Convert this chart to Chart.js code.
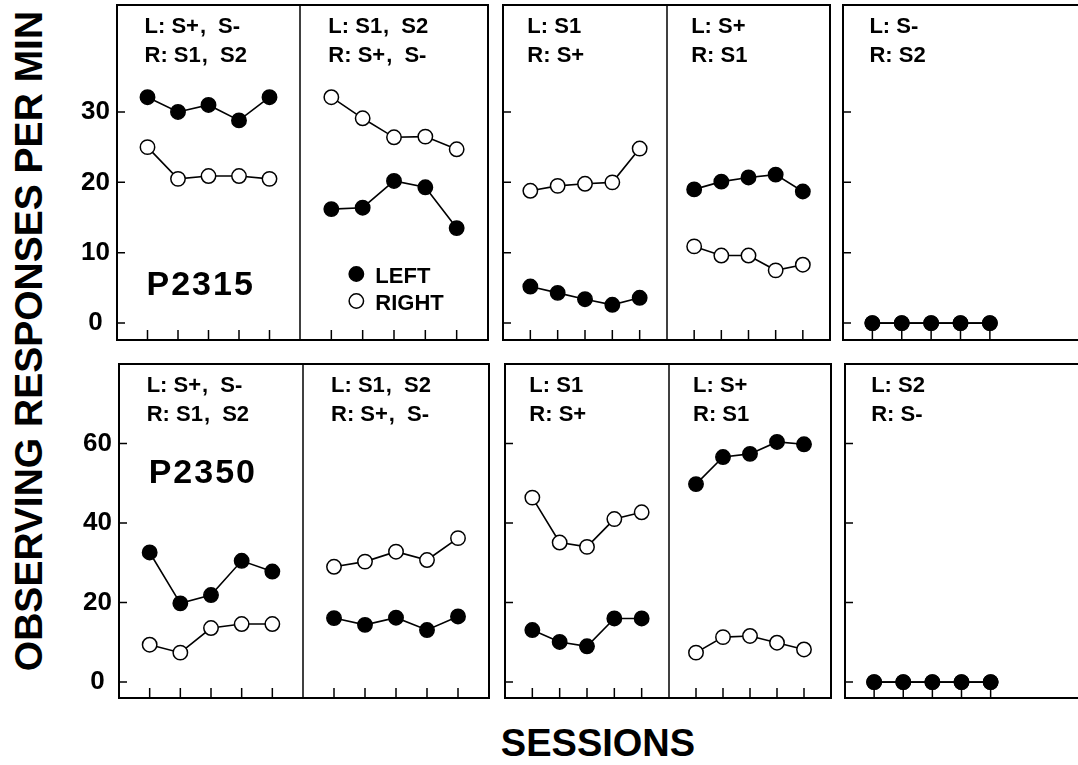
<!DOCTYPE html>
<html>
<head>
<meta charset="utf-8">
<script src="https://cdn.jsdelivr.net/npm/chart.js@4.4.1/dist/chart.umd.min.js"></script>
<style>
  html, body { margin: 0; padding: 0; background: #fff; }
  body { width: 1078px; height: 765px; position: relative; overflow: hidden; font-family: "Liberation Sans", Arial, sans-serif; }
  .panel { position: absolute; }
  .ttl { position: absolute; font-weight: bold; line-height: 1; white-space: nowrap; color: #000; }
</style>
</head>
<body>
<div class="ttl" style="left:28px; top:341px; font-size:39px; transform: translate(-50%, -50%) rotate(-90deg);">OBSERVING RESPONSES PER MIN</div>
<div class="ttl" style="left:598px; top:743px; font-size:38px; transform: translate(-50%, -50%);">SESSIONS</div>
<script>
// sessions on the x axis of every sub-panel
const sessions = [1, 2, 3, 4, 5];
const topTicks = [0, 10, 20, 30];
const bottomTicks = [0, 20, 40, 60];

const topConditions = [
  ['L: S+, S-', 'R: S1, S2'],
  ['L: S1, S2', 'R: S+, S-'],
  ['L: S1', 'R: S+'],
  ['L: S+', 'R: S1'],
  ['L: S-', 'R: S2']
];
const bottomConditions = [
  ['L: S+, S-', 'R: S1, S2'],
  ['L: S1, S2', 'R: S+, S-'],
  ['L: S1', 'R: S+'],
  ['L: S+', 'R: S1'],
  ['L: S2', 'R: S-']
];

// P2315 (top row), one list per condition
const p2315Left = [
  [32.1, 30.0, 31.0, 28.8, 32.1],
  [16.2, 16.4, 20.2, 19.3, 13.5],
  [5.2, 4.3, 3.4, 2.6, 3.6],
  [19.0, 20.1, 20.7, 21.1, 18.7],
  [0, 0, 0, 0, 0]
];
const p2315Right = [
  [25.0, 20.5, 20.9, 20.9, 20.5],
  [32.1, 29.1, 26.4, 26.5, 24.7],
  [18.8, 19.5, 19.8, 20.0, 24.8],
  [10.9, 9.6, 9.6, 7.5, 8.3],
  [0, 0, 0, 0, 0]
];
// P2350 (bottom row)
const p2350Left = [
  [32.6, 19.8, 21.9, 30.5, 27.8],
  [16.1, 14.4, 16.2, 13.1, 16.5],
  [13.1, 10.1, 9.0, 16.0, 16.0],
  [49.8, 56.6, 57.4, 60.4, 59.8],
  [0, 0, 0, 0, 0]
];
const p2350Right = [
  [9.4, 7.4, 13.6, 14.6, 14.6],
  [29.0, 30.3, 32.8, 30.7, 36.2],
  [46.4, 35.1, 34.0, 41.0, 42.7],
  [7.4, 11.3, 11.6, 9.9, 8.2],
  [0, 0, 0, 0, 0]
];

Chart.defaults.font.family = '"Liberation Sans", Arial, sans-serif';
Chart.defaults.color = '#000';

const PAD = 26, AXIS_W = 60;
const R_DOT = 7.2;

const rows = [
  { top: 5, bottom: 340, yMin: -2.4, yMax: 45.2, ticks: topTicks, cond: topConditions,
    left: p2315Left, right: p2315Right, subject: 'P2315', subjectY: 290, legend: true,
    edges: [[117, 300], [300, 488], [503, 667], [667, 830], [843, 1078]] },
  { top: 364, bottom: 698, yMin: -4, yMax: 80, ticks: bottomTicks, cond: bottomConditions,
    left: p2350Left, right: p2350Right, subject: 'P2350', subjectY: 119, legend: false,
    edges: [[119, 303], [303, 489], [505, 669], [669, 831], [845, 1078]] }
];

function drawCond(ctx, text, x, y) {
  const parts = text.split(', ');
  ctx.fillText(parts[0], x, y);
  if (parts.length > 1) {
    let cx = x + ctx.measureText(parts[0]).width + 1;
    ctx.fillText(',', cx, y);
    cx += ctx.measureText(', ').width + 6;
    ctx.fillText(parts[1], cx, y);
  }
}

function dot(ctx, x, y, filled) {
  ctx.beginPath();
  ctx.arc(x, y, R_DOT, 0, Math.PI * 2);
  ctx.fillStyle = filled ? '#000' : '#fff';
  ctx.fill();
  ctx.lineWidth = 1.5;
  ctx.strokeStyle = '#000';
  ctx.stroke();
}

const panelFrame = {
  id: 'panelFrame',
  beforeDatasetsDraw(chart, args, o) {
    const { ctx, chartArea: a, scales: { x, y } } = chart;
    ctx.save();
    ctx.strokeStyle = '#000';
    ctx.lineCap = 'square';
    ctx.lineWidth = 2;
    ctx.beginPath();
    ctx.moveTo(a.left, a.top); ctx.lineTo(a.right, a.top);
    ctx.moveTo(a.left, a.bottom); ctx.lineTo(a.right, a.bottom);
    if (o.boxStart) { ctx.moveTo(a.left, a.top); ctx.lineTo(a.left, a.bottom); }
    if (o.boxEnd) { ctx.moveTo(a.right, a.top); ctx.lineTo(a.right, a.bottom); }
    ctx.stroke();
    if (o.divider) {
      ctx.lineWidth = 1.5;
      ctx.beginPath();
      ctx.moveTo(a.right, a.top); ctx.lineTo(a.right, a.bottom);
      ctx.stroke();
    }
    ctx.lineCap = 'butt';
    ctx.lineWidth = 1.5;
    ctx.beginPath();
    sessions.forEach(s => {
      const px = x.getPixelForValue(s);
      ctx.moveTo(px, a.bottom); ctx.lineTo(px, a.bottom - 10);
    });
    if (o.boxStart) {
      o.yTicks.forEach(v => {
        const py = y.getPixelForValue(v);
        ctx.moveTo(a.left, py); ctx.lineTo(a.left + 8, py);
      });
    }
    ctx.stroke();
    ctx.restore();
  },
  afterDatasetsDraw(chart, args, o) {
    const { ctx, chartArea: a, scales: { x } } = chart;
    const tx = x.getPixelForValue(1) - 3;
    ctx.save();
    ctx.fillStyle = '#000';
    ctx.textBaseline = 'alphabetic';
    ctx.textAlign = 'left';
    ctx.font = 'bold 22px "Liberation Sans", Arial, sans-serif';
    drawCond(ctx, o.cond[0], tx, a.top + 28);
    drawCond(ctx, o.cond[1], tx, a.top + 57);
    if (o.subject) {
      ctx.font = 'bold 34px "Liberation Sans", Arial, sans-serif';
      ctx.letterSpacing = '2px';
      ctx.fillText(o.subject, tx + 2, a.top + o.subjectY);
      ctx.letterSpacing = '0px';
    }
    if (o.legend) {
      const lx = tx + 28;
      const y1 = a.bottom - 66, y2 = a.bottom - 39;
      dot(ctx, lx, y1, true);
      dot(ctx, lx, y2, false);
      ctx.fillStyle = '#000';
      ctx.font = 'bold 22px "Liberation Sans", Arial, sans-serif';
      ctx.fillText('LEFT', lx + 19, y1 + 9);
      ctx.fillText('RIGHT', lx + 19, y2 + 9);
    }
    ctx.restore();
  }
};

function series(label, vals, filled) {
  return {
    label,
    data: sessions.map((s, k) => ({ x: s, y: vals[k] })),
    borderColor: '#000',
    borderWidth: 1.6,
    pointRadius: R_DOT,
    pointBorderWidth: 1.5,
    pointBorderColor: '#000',
    pointBackgroundColor: filled ? '#000' : '#fff',
    backgroundColor: filled ? '#000' : '#fff',
    tension: 0,
    fill: false
  };
}

rows.forEach(row => {
  row.edges.forEach(([L, R], i) => {
    const withAxis = i === 0;
    const div = document.createElement('div');
    div.className = 'panel';
    const extra = withAxis ? AXIS_W : 0;
    div.style.left = (L - PAD - extra) + 'px';
    div.style.top = (row.top - PAD) + 'px';
    div.style.width = (R - L + 2 * PAD + extra) + 'px';
    div.style.height = (row.bottom - row.top + 2 * PAD) + 'px';
    const canvas = document.createElement('canvas');
    div.appendChild(canvas);
    document.body.appendChild(div);

    const yScale = {
      type: 'linear',
      min: row.yMin,
      max: row.yMax,
      display: withAxis,
      grid: { display: false, drawTicks: false },
      border: { display: false },
      ticks: {
        color: '#000',
        padding: 7,
        crossAlign: 'center',
        autoSkip: false,
        font: { size: 26, weight: 'bold' }
      }
    };
    if (withAxis) {
      yScale.afterBuildTicks = s => { s.ticks = row.ticks.map(v => ({ value: v })); };
      yScale.afterFit = s => { s.width = AXIS_W; };
    }

    new Chart(canvas, {
      type: 'line',
      data: {
        datasets: [
          series('LEFT', row.left[i], true),
          series('RIGHT', row.right[i], false)
        ]
      },
      options: {
        responsive: true,
        maintainAspectRatio: false,
        animation: false,
        events: [],
        layout: { padding: PAD },
        plugins: {
          legend: { display: false },
          tooltip: { enabled: false },
          panelFrame: {
            boxStart: i === 0 || i === 2 || i === 4,
            divider: i === 0 || i === 2,
            boxEnd: i === 1 || i === 3,
            yTicks: row.ticks,
            cond: row.cond[i],
            subject: i === 0 ? row.subject : null,
            subjectY: row.subjectY,
            legend: row.legend && i === 1
          }
        },
        scales: {
          x: { type: 'linear', min: 0, max: i === 4 ? 8 : 6, display: false },
          y: yScale
        }
      },
      plugins: [panelFrame]
    });
  });
});
</script>
</body>
</html>
